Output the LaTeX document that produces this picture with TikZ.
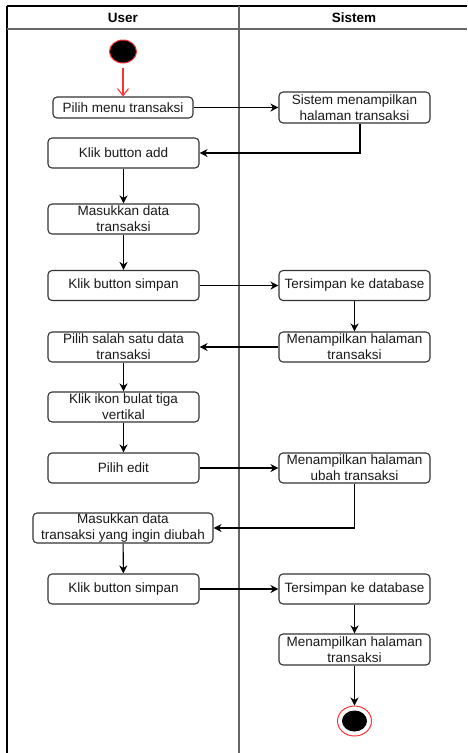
\documentclass[tikz,border=0pt]{standalone}
\usepackage{fontspec}
\setmainfont{Liberation Sans}
\usetikzlibrary{arrows.meta,calc,shapes.geometric}
\definecolor{boxline}{HTML}{333333}
\definecolor{txt}{HTML}{1A1A1A}
\definecolor{lanegray}{HTML}{666666}
\definecolor{startred}{HTML}{FF3333}
\tikzset{
  abox/.style={draw=boxline, line width=1.1pt, rounded corners=4pt, fill=white,
    minimum width=151pt, minimum height=30pt, align=center, inner sep=0pt,
    text=txt, font=\fontsize{13.5}{16}\selectfont},
  flow/.style={draw=black, line width=1.1pt, -{Stealth[length=8pt,width=8pt,inset=2.5pt]}},
  redflow/.style={draw=startred, line width=1.1pt, -{Straight Barb[length=7pt,width=11pt]}},
  hdr/.style={font=\fontsize{13.5}{15}\selectfont\bfseries, text=black}
}
\begin{document}
\begin{tikzpicture}[x=1pt,y=-1pt]
\useasboundingbox (0,0) rectangle (467,753);
\fill[white] (0,0) rectangle (467,753);
% swimlane frame
\draw[black, line width=1.2pt] (7,6) -- (467,6);
\draw[black, line width=1.2pt] (7,6) -- (7,753);
\draw[lanegray, line width=1.2pt] (7,29) -- (467,29);
\draw[lanegray, line width=1.6pt] (239,6) -- (239,753);
\node[hdr] (hu) at (123,18) {User};
\node[hdr] (hs) at (354,18) {Sistem};
% start
\node[draw=startred, fill=black, line width=1pt, ellipse, minimum width=27pt, minimum height=23pt, inner sep=0pt] (start) at (123,51.5) {};
% user nodes
\node[abox, minimum width=140pt, minimum height=21pt] (b1) at (123,107.5) {Pilih menu transaksi};
\node[abox] (b2) at (123.5,153) {Klik button add};
\node[abox] (b3) at (123.5,219) {Masukkan data\\transaksi};
\node[abox] (b4) at (123.5,285.5) {Klik button simpan};
\node[abox] (b5) at (123.5,347) {Pilih salah satu data\\transaksi};
\node[abox] (b6) at (123.5,407) {Klik ikon bulat tiga\\vertikal};
\node[abox] (b7) at (123.5,468) {Pilih edit};
\node[abox, minimum width=180pt] (b8) at (123,528) {Masukkan data\\transaksi yang ingin diubah};
\node[abox] (b9) at (123.5,589) {Klik button simpan};
% system nodes
\node[abox, minimum height=31pt] (s1) at (354.5,107.5) {Sistem menampilkan\\halaman transaksi};
\node[abox] (s2) at (354.5,285.5) {Tersimpan ke database};
\node[abox] (s3) at (354.5,347) {Menampilkan halaman\\transaksi};
\node[abox] (s4) at (354.5,468) {Menampilkan halaman\\ubah transaksi};
\node[abox] (s5) at (354.5,589) {Tersimpan ke database};
\node[abox, minimum height=31pt] (s6) at (354.5,649.5) {Menampilkan halaman\\transaksi};
% end
\node[draw=startred, fill=white, line width=1pt, ellipse, minimum width=34pt, minimum height=30pt, inner sep=0pt] (endo) at (354.5,721) {};
\node[fill=black, ellipse, minimum width=25pt, minimum height=21pt, inner sep=0pt] (endi) at (354.5,721) {};
% connectors
\draw[redflow, shorten <=4pt] (start) -- (b1);
\draw[flow] (b1) -- (s1);
\draw[flow] ([xshift=5.5pt]s1.south) |- (b2.east);
\draw[flow] (b2) -- (b3);
\draw[flow] (b3) -- (b4);
\draw[flow] (b4) -- (s2);
\draw[flow] (s2) -- (s3);
\draw[flow] (s3) -- (b5);
\draw[flow] (b5) -- (b6);
\draw[flow] (b6) -- (b7);
\draw[flow] (b7) -- (s4);
\draw[flow] (s4.south) |- (b8.east);
\draw[flow] (b8) -- (b9);
\draw[flow] (b9) -- (s5);
\draw[flow] (s5) -- (s6);
\draw[flow] (s6) -- (endo.north);
\end{tikzpicture}
\end{document}
